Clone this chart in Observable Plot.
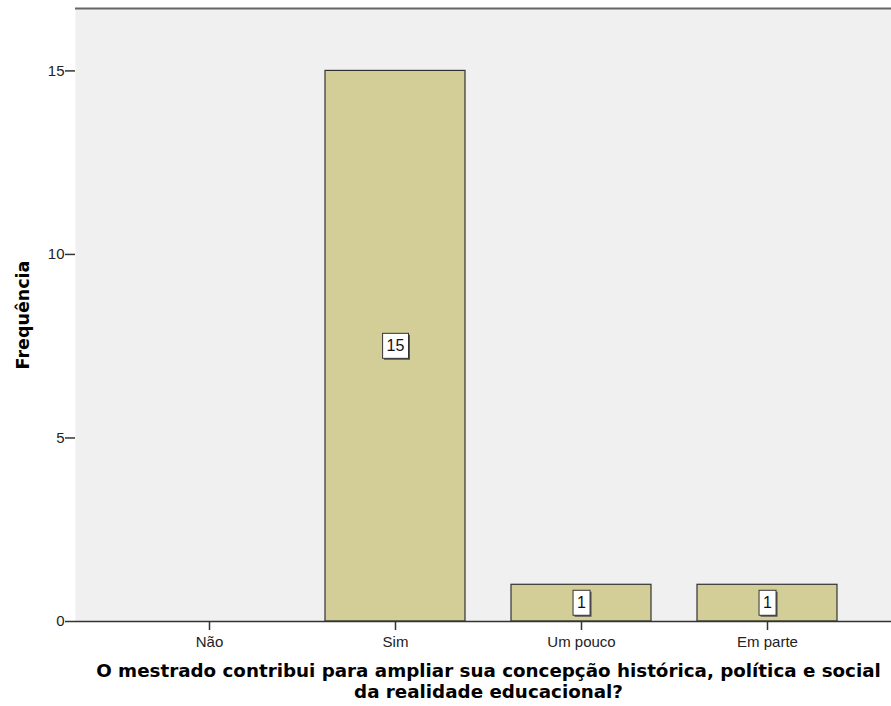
<!DOCTYPE html>
<html>
<head>
<meta charset="utf-8">
<script src="https://cdn.jsdelivr.net/npm/d3@7"></script>
<script src="https://cdn.jsdelivr.net/npm/@observablehq/plot@0.6"></script>
<style>
  html, body { margin: 0; padding: 0; background: #fff; }
  #chart svg { display: block; font-family: "Liberation Sans", Arial, sans-serif; }
</style>
</head>
<body>
<div id="chart"></div>
<script>
const categories = ["Não", "Sim", "Um pouco", "Em parte"];
const counts = [0, 15, 1, 1];
const yTicks = [0, 5, 10, 15];
const yLabel = ["Frequência"];
const xLabel = ["O mestrado contribui para ampliar sua concepção histórica, política e social\nda realidade educacional?"];

const data = categories.map((c, i) => ({category: c, count: counts[i]}));
const nonZero = data.filter(d => d.count > 0);
const boldFont = "'DejaVu Sans', Verdana, sans-serif";

const plot = Plot.plot({
  width: 891,
  height: 706,
  marginLeft: 75,
  marginRight: 0,
  marginTop: 8,
  marginBottom: 85,
  style: {fontFamily: "'Liberation Sans', Arial, sans-serif", fontSize: "15px", color: "#222", background: "#fff"},
  x: {domain: categories, range: [92, 883], paddingInner: 0.25, paddingOuter: 0.25, label: null},
  y: {domain: [0, 16.7], label: null},
  marks: [
    Plot.frame({fill: "#f0f0f0", stroke: null}),
    Plot.barY(nonZero, {x: "category", y: "count", fill: "#d3ce97", stroke: "#333", strokeWidth: 1.2}),
    Plot.ruleX([0], {frameAnchor: "left", stroke: "#333", strokeWidth: 2}),
    Plot.ruleY([16.7], {stroke: "#666", strokeWidth: 2}),
    Plot.ruleY([0], {stroke: "#333", strokeWidth: 1.5}),
    Plot.axisY({ticks: yTicks, tickSize: 10, tickPadding: 1, label: null, stroke: "#333", strokeWidth: 1.5, fill: "#222", fontSize: 15}),
    Plot.axisX({tickSize: 9, tickPadding: 6, label: null, stroke: "#333", strokeWidth: 1.5, fill: "#222", fontSize: 15}),
    Plot.text(nonZero, {x: "category", y: d => d.count / 2, text: d => String(d.count), fill: "#111", fontSize: 16, className: "vlabel"}),
    Plot.text(yLabel, {frameAnchor: "left", textAnchor: "middle", rotate: -90, dx: -52, fontWeight: "bold", fontSize: 17.5, fontFamily: boldFont, fill: "#000"}),
    Plot.text(xLabel, {frameAnchor: "bottom", lineAnchor: "middle", dy: 59, dx: 5, fontWeight: "bold", fontSize: 18.3, fontFamily: boldFont, fill: "#000", lineHeight: 1.15})
  ]
});

document.getElementById("chart").appendChild(plot);

// white boxes behind value labels (copy each text's own transform)
const svg = d3.select(plot);
svg.selectAll("g.vlabel text").each(function() {
  const b = this.getBBox();
  const tr = this.getAttribute("transform");
  const padX = 4, padY = 4;
  const x = b.x - padX, y = b.y - padY, w = b.width + 2 * padX, h = b.height + 2 * padY;
  const parent = d3.select(this.parentNode);
  const shadow = parent.insert("rect", () => this)
    .attr("x", x + 1.5).attr("y", y + 1.5).attr("width", w).attr("height", h)
    .attr("fill", "#555");
  const box = parent.insert("rect", () => this)
    .attr("x", x).attr("y", y).attr("width", w).attr("height", h)
    .attr("fill", "#fff").attr("stroke", "#333").attr("stroke-width", 1);
  if (tr) { shadow.attr("transform", tr); box.attr("transform", tr); }
});
</script>
</body>
</html>
